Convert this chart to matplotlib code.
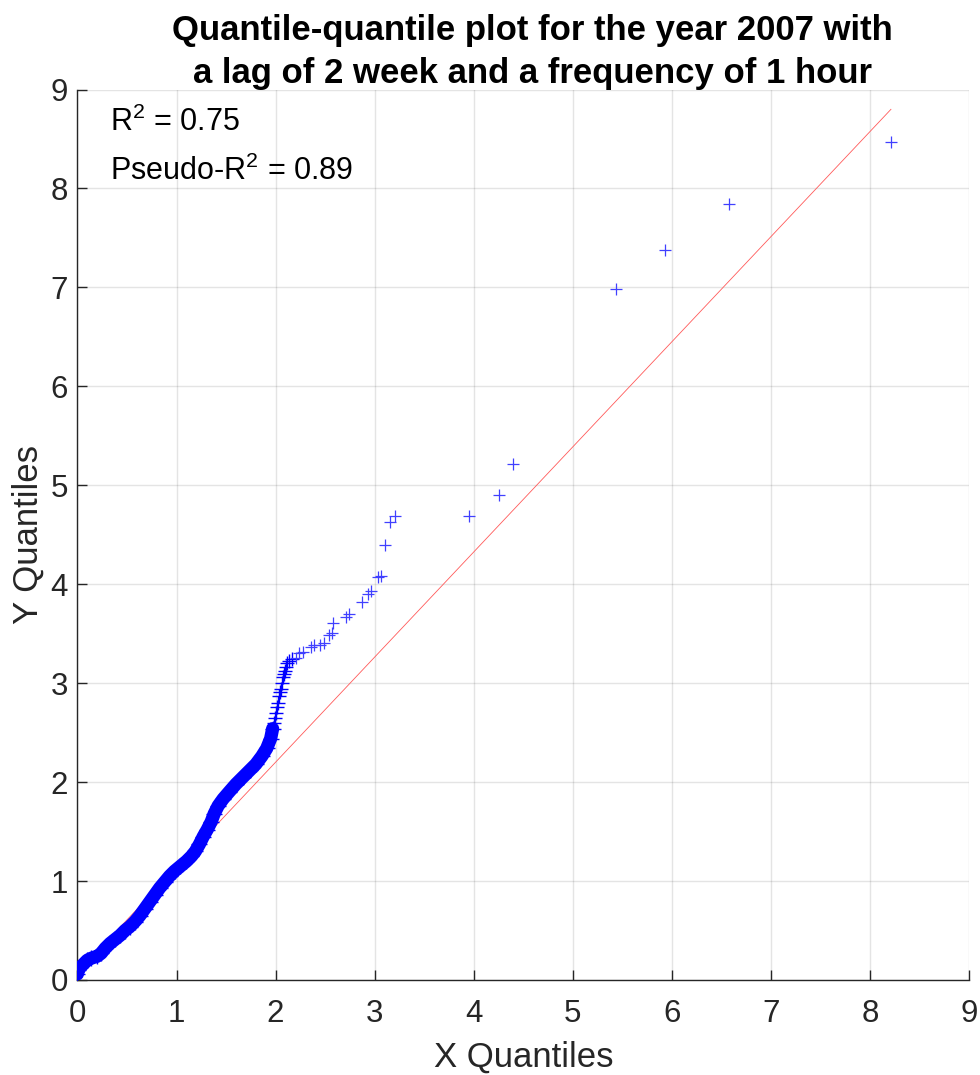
import matplotlib
matplotlib.use("Agg")
from matplotlib import pyplot as plt

plt.rcParams['font.family'] = ['Liberation Sans', 'DejaVu Sans']
plt.rcParams['mathtext.fontset'] = 'custom'
plt.rcParams['mathtext.rm'] = 'Liberation Sans'
plt.rcParams['mathtext.it'] = 'Liberation Sans'

# dense part of the quantile curve
dense_x = [0.00, 0.01, 0.03, 0.06, 0.10, 0.14, 0.20, 0.24, 0.28, 0.33, 0.38, 0.43,
           0.48, 0.53, 0.58, 0.63, 0.68, 0.73, 0.78, 0.83, 0.88, 0.93, 0.98, 1.04,
           1.10, 1.15, 1.19, 1.23, 1.27, 1.31, 1.35, 1.38, 1.42, 1.47, 1.53, 1.60,
           1.67, 1.74, 1.80, 1.86, 1.91, 1.95, 1.97]
dense_y = [0.06, 0.10, 0.13, 0.16, 0.20, 0.22, 0.24, 0.27, 0.32, 0.37, 0.41, 0.45,
           0.50, 0.54, 0.59, 0.65, 0.72, 0.79, 0.86, 0.93, 0.99, 1.05, 1.10, 1.15,
           1.20, 1.25, 1.30, 1.37, 1.45, 1.52, 1.60, 1.68, 1.76, 1.83, 1.90, 1.98,
           2.05, 2.12, 2.18, 2.26, 2.34, 2.44, 2.54]

# single visible markers of the upper tail
tail_x = [1.98, 1.99, 2.00, 2.01, 2.02, 2.03, 2.04, 2.05, 2.06, 2.07, 2.08, 2.09,
          2.11, 2.12, 2.14, 2.17, 2.21, 2.24, 2.28, 2.36, 2.39, 2.45, 2.49, 2.54,
          2.57, 2.58, 2.71, 2.74, 2.87, 2.93, 2.96, 3.03, 3.06, 3.10, 3.15, 3.21,
          3.95, 4.25, 4.40, 5.44, 5.93, 6.58, 8.21]
tail_y = [2.60, 2.65, 2.70, 2.76, 2.80, 2.87, 2.91, 2.94, 3.00, 3.06, 3.09, 3.12,
          3.16, 3.20, 3.22, 3.24, 3.25, 3.30, 3.31, 3.37, 3.39, 3.39, 3.41, 3.49,
          3.51, 3.61, 3.67, 3.70, 3.82, 3.90, 3.93, 4.07, 4.08, 4.40, 4.63, 4.69,
          4.69, 4.90, 5.22, 6.98, 7.38, 7.84, 8.47]

# reference line ends
ref_x = [0.0, 8.21]
ref_y = [0.076, 8.80]

ticks = list(range(0, 10))
dark = (0.15, 0.15, 0.15)

fig = plt.figure(figsize=(9.8, 10.75), dpi=100)
ax = fig.add_axes([0.079, 0.0884, 0.910, 0.8283])

ax.plot(ref_x, ref_y, color=(1.0, 0.35, 0.35), lw=0.6, zorder=2)
ax.plot(dense_x, dense_y, color='blue', lw=9.5, solid_capstyle='round', zorder=3)
ax.plot(dense_x, dense_y, '+', color='blue', ms=11, mew=1.0, zorder=3)
ax.plot(tail_x[:16], tail_y[:16], '+', color='blue', ms=10, mew=1.0, zorder=3)
ax.plot(tail_x[16:], tail_y[16:], '+', color=(0.25, 0.25, 1.0), ms=8.5, mew=0.9, zorder=3)

ax.set_xlim(0, 9)
ax.set_ylim(0, 9)
ax.set_xticks(ticks)
ax.set_yticks(ticks)
ax.grid(True, color=dark, alpha=0.12, lw=1)
ax.set_axisbelow(True)
for s in ['top', 'right']:
    ax.spines[s].set_visible(False)
for s in ['left', 'bottom']:
    ax.spines[s].set_color(dark)
    ax.spines[s].set_linewidth(1)
ax.tick_params(direction='in', length=7, width=1, color=dark,
               labelcolor=dark, labelsize=22.5)
ax.tick_params(axis='x', pad=14)
ax.tick_params(axis='y', pad=7)

ax.set_xlabel('X Quantiles', fontsize=25, color=dark, labelpad=8)
ax.set_ylabel('Y Quantiles', fontsize=25, color=dark, labelpad=4)
ax.set_title('Quantile-quantile plot for the year 2007 with\na lag of 2 week and a frequency of 1 hour',
             fontsize=25, fontweight='bold', x=0.51, pad=2, linespacing=1.38)

ax.text(0.0365, 0.953, r'R$^{2}$ = 0.75', transform=ax.transAxes, fontsize=22, va='baseline')
ax.text(0.0365, 0.898, r'Pseudo-R$^{2}$ = 0.89', transform=ax.transAxes, fontsize=22, va='baseline')

fig.savefig('out.png', dpi=100)
